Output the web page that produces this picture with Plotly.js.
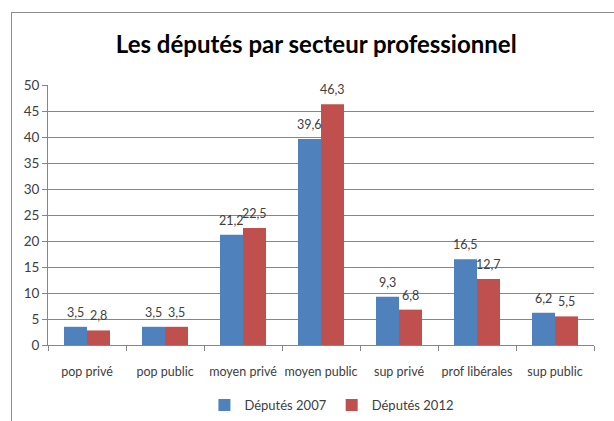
<!DOCTYPE html>
<html>
<head>
<meta charset="utf-8">
<script src="https://cdn.plot.ly/plotly-3.0.1.min.js"></script>
<style>
html,body{margin:0;padding:0;background:#fff;}
#frame{position:absolute;left:11px;top:12px;width:640px;height:440px;border:1px solid #8c8c8c;box-sizing:border-box;}
#chart{position:absolute;left:0;top:0;width:614px;height:421px;}
</style>
</head>
<body>
<div id="frame"></div>
<div id="chart"></div>
<script>
const categories = ["pop privé","pop public","moyen privé","moyen public","sup privé","prof libérales","sup public"];
const deputes2007 = [3.5,3.5,21.2,39.6,9.3,16.5,6.2];
const deputes2012 = [2.8,3.5,22.5,46.3,6.8,12.7,5.5];
const seriesNames = ["Députés 2007","Députés 2012"];
const fr = v => v.toFixed(1).replace('.', ',');
const font = "Lato, 'Open Sans', sans-serif";
const traces = [
  {type:'bar', name:seriesNames[0], x:categories, y:deputes2007, marker:{color:'#4f81bd'}},
  {type:'bar', name:seriesNames[1], x:categories, y:deputes2012, marker:{color:'#c0504d'}}
];
const W = 614, ml = 48, mr = 20;
const bargap = 0.41;
const barPx = (W - ml - mr) / categories.length * (1 - bargap) / 2;
const annotations = [];
[deputes2007, deputes2012].forEach((vals, s) => {
  vals.forEach((v, i) => {
    annotations.push({x: categories[i], y: v, xref:'x', yref:'y', text: fr(v), showarrow:false,
      xshift: (s === 0 ? -1 : 1) * barPx / 2, yshift: 5, yanchor:'bottom',
      font:{family:font, size:12.5, color:'#404040'}});
  });
});
const layout = {
  width:W, height:421,
  margin:{l:ml, r:mr, t:85, b:76, autoexpand:false},
  paper_bgcolor:'rgba(0,0,0,0)', plot_bgcolor:'rgba(0,0,0,0)',
  font:{family:font, size:13, color:'#404040'},
  title:{text:'<b>Les députés par secteur professionnel</b>', x:0.515, xanchor:'center', y:0.893, yanchor:'middle',
         font:{family:font, size:24, color:'#000'}},
  barmode:'group', bargap:bargap, bargroupgap:0,
  showlegend:true,
  legend:{orientation:'h', x:0.52, xanchor:'center', yref:'container', y:0.038, yanchor:'middle', font:{family:font,size:13,color:'#404040'}, traceorder:'normal', itemwidth:30},
  annotations: annotations,
  xaxis:{automargin:false, showline:true, linecolor:'#868686', ticks:'outside', ticklen:5, tickcolor:'#868686', tickangle:0,
         tickson:'boundaries', showgrid:false, ticklabelstandoff:15, tickfont:{family:font,size:12.5,color:'#404040'}},
  yaxis:{automargin:false, range:[0,50], dtick:5, showline:true, linecolor:'#868686', ticks:'outside', ticklen:5, tickcolor:'#868686',
         showgrid:true, gridcolor:'#868686', gridwidth:1, zeroline:false, tickfont:{family:font,size:13.5,color:'#404040'}}
};
Plotly.newPlot('chart', traces, layout, {displayModeBar:false});
</script>
</body>
</html>
